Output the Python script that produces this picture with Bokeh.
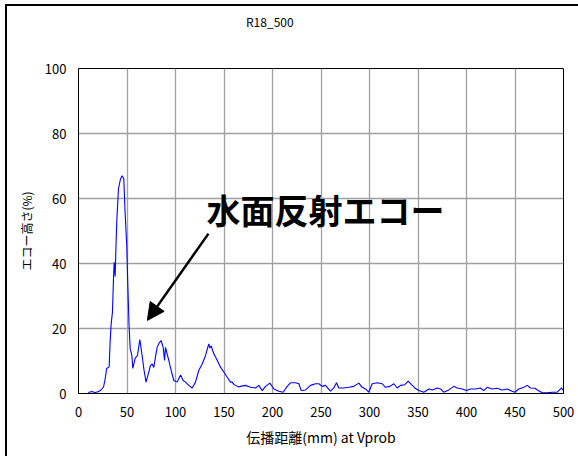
from bokeh.plotting import figure
from bokeh.models import FixedTicker, Label, Arrow, NormalHead, Range1d, Div
from bokeh.layouts import column
from bokeh.embed import file_html
from bokeh.resources import INLINE

title_text = "R18_500"
x_label = "伝播距離(mm) at Vprob"
y_label = "エコー高さ(%)"
annotation_text = "水面反射エコー"
x_ticks = [0, 50, 100, 150, 200, 250, 300, 350, 400, 450, 500]
y_ticks = [0, 20, 40, 60, 80, 100]

distance_mm = [
    10, 14, 17, 20.6, 23, 25.8, 27.5, 29, 31.6, 32.6, 33.7, 35, 36, 36.8, 37.8, 38.5,
    39.5, 41.2, 43.3, 45, 46.7, 48, 49.8, 50.9, 52.2, 53.3, 55, 56, 58.4, 60.8, 63.2,
    65.3, 67.3, 69.6, 72.5, 74, 76, 77.6, 79.5, 81.1, 83, 85.2, 87.3, 88.7, 89.7, 91.5,
    93.1, 95.5, 98.3, 101.7, 105.2, 107.9, 110.3, 113.7, 117.2, 120.6, 124, 127.5, 131,
    134.3, 135.5, 136.8, 139.5, 143, 146.4, 149.8, 153.3, 156.7, 158.4, 160.1, 161.9,
    165.3, 167, 172, 177.3, 182.5, 185.9, 189.4, 192.8, 197.3, 201.4, 206.5, 211, 215.1,
    218.6, 223.7, 227.2, 229.6, 234, 239.2, 244.3, 247.8, 251.2, 254.6, 259.8, 263.2,
    266, 268.4, 273.5, 278.7, 283.8, 289, 292.5, 295.9, 299.3, 302.8, 308, 313.1, 316.5,
    321, 325.1, 328.6, 332, 336.4, 339.9, 343.3, 346.7, 350.9, 356, 361.2, 364.6, 369.8,
    373.2, 376.6, 381.8, 386.9, 390.4, 395.6, 400, 404.1, 409.3, 414.4, 417.8, 421.3,
    426.5, 431.6, 436.8, 442, 447.1, 449.8, 453.9, 459.1, 462.6, 466, 470.4, 473.9, 478,
    483.2, 488.3, 493.5, 495.9, 498, 499.7,
]
echo_pct = [
    0.3, 0.6, 0.2, 0.6, 1.0, 2.0, 4.5, 7.7, 8.2, 15.8, 21.5, 25, 34.8, 40.4, 36, 44,
    53.2, 63, 66, 67, 66, 56, 45, 32.7, 20.4, 13.8, 11.7, 7.7, 10.8, 11.7, 16.6,
    12.3, 7.7, 3.5, 6.6, 8.5, 9.1, 8.0, 11.5, 14.2, 15.5, 16.3, 14.2, 10.2, 14.2, 12,
    10.2, 7.1, 4.0, 3.5, 5.7, 4.0, 3.5, 2.5, 1.7, 3.5, 7.1, 9.1, 11.7,
    15.3, 14.0, 14.6, 12.2, 10.2, 8.1, 6.6, 5.0, 3.5, 3.5, 2.8, 2.5,
    2.0, 2.2, 2.5, 1.9, 1.7, 2.5, 0.9, 2.2, 3.2, 1.4, 0.7, 0.4, 2.2,
    3.3, 3.3, 3.0, 0.9, 1.1, 2.5, 3.0, 3.0, 2.2, 2.5, 0.7, 1.7,
    3.3, 1.7, 1.7, 1.9, 2.2, 3.2, 1.9, 1.4, 0.4, 3.0, 3.3, 3.0, 1.9,
    2.2, 3.0, 1.7, 2.5, 2.7, 3.8, 2.7, 1.7, 0.9, 0.4, 1.4, 1.1, 1.7,
    1.4, 0.4, 1.1, 2.2, 1.7, 1.4, 0.9, 1.4, 1.4, 1.7, 0.9, 1.9,
    1.4, 1.6, 1.1, 1.4, 0.7, 0.4, 1.4, 1.9, 2.5, 1.7, 1.6, 0.9, 0.2,
    0.2, 0.4, 0.4, 1.1, 1.7, 0.9,
]

# annotation anchor values (data units)
arrow_start = (134, 49.2)
arrow_end = (71, 22.5)
annotation_pos = (132, 56.6)

JP = "Noto Sans CJK JP"

header = Div(
    text=(f'<div style="margin:9px 0 0 239px;font-family:\'{JP}\';font-size:12px;'
          f'line-height:14px;color:black;white-space:nowrap">{title_text}</div>'),
    width=571, height=50,
    styles={"background-color": "white", "margin": "0", "padding": "0"},
)

p = figure(width=571, height=400, output_backend="svg", toolbar_location=None,
           title=None,
           x_range=Range1d(0, 500), y_range=Range1d(0, 100),
           min_border_left=71, min_border_right=15, min_border_top=12, min_border_bottom=63)
p.background_fill_color = "white"
p.border_fill_color = "white"
p.outline_line_color = "black"
p.outline_line_width = 1

p.line(distance_mm, echo_pct, line_color="#0000ff", line_width=1.1)

for ax in (p.xaxis[0], p.yaxis[0]):
    ax.axis_line_color = "black"
    ax.major_tick_out = 0
    ax.major_tick_in = 0
    ax.minor_tick_out = 0
    ax.minor_tick_in = 0
    ax.major_label_text_font = JP
    ax.major_label_text_font_size = "13px"
    ax.major_label_text_color = "black"
    ax.axis_label_text_font = JP
    ax.axis_label_text_font_style = "normal"
    ax.axis_label_text_color = "black"

p.xaxis.axis_label_text_font_size = "14px"
p.yaxis.axis_label_text_font_size = "12px"
p.xaxis.ticker = FixedTicker(ticks=x_ticks)
p.yaxis.ticker = FixedTicker(ticks=y_ticks)
p.xaxis.axis_label = x_label
p.yaxis.axis_label = y_label
p.xaxis.major_label_standoff = 13
p.yaxis.major_label_standoff = 12
p.xaxis.axis_label_standoff = 7
p.yaxis.axis_label_standoff = 7

p.grid.grid_line_color = "#a0a0a0"
p.grid.grid_line_width = 1.3
p.xgrid.ticker = FixedTicker(ticks=x_ticks)
p.ygrid.ticker = FixedTicker(ticks=y_ticks)

p.add_layout(Label(x=annotation_pos[0], y=annotation_pos[1], text=annotation_text,
                   text_font=JP, text_font_size="34px", text_font_style="bold",
                   text_align="left", text_baseline="middle", text_color="black"))

p.add_layout(Arrow(x_start=arrow_start[0], y_start=arrow_start[1],
                   x_end=arrow_end[0], y_end=arrow_end[1],
                   line_color="black", line_width=2.5,
                   end=NormalHead(size=17, fill_color="black", line_color="black")))

layout = column(header, p, spacing=0)
layout.styles = {"position": "relative", "left": "7px", "top": "6px",
                 "outline": "2px solid black", "background-color": "white"}

open("out.html", "w").write(file_html(layout, INLINE))
